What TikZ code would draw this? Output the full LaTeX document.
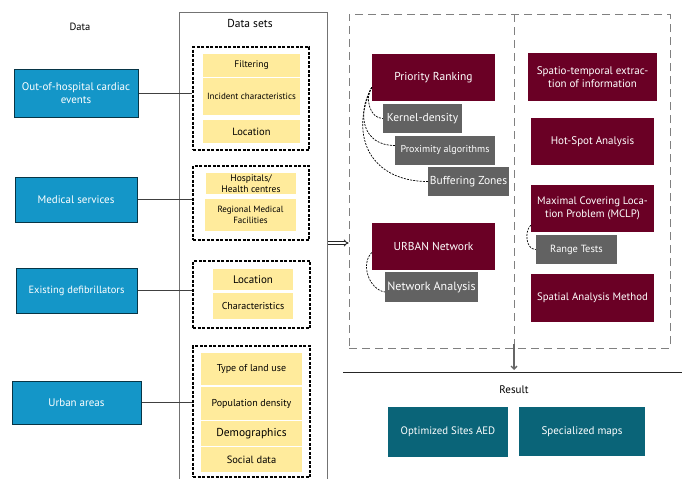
\documentclass[tikz,border=0pt]{standalone}
\usepackage{fontspec}
\setmainfont{PT Sans}
\usetikzlibrary{arrows.meta}
\definecolor{datablue}{HTML}{1496C8}
\definecolor{setyellow}{HTML}{FFEB9C}
\definecolor{methodred}{HTML}{6A0025}
\definecolor{toolgray}{HTML}{626262}
\definecolor{resultteal}{HTML}{0A6478}
\newcommand{\fsz}[1]{\fontsize{#1}{#1}\selectfont}
\begin{document}
\begin{tikzpicture}[x=1pt, y=-1pt,
    databox/.style={draw=datablue!35!black, line width=1pt, fill=datablue, text=white, align=center, inner sep=0pt, font=\fontsize{11}{12.5}\selectfont},
    setbox/.style={fill=setyellow, align=center, inner sep=0pt, font=\fsz{10}},
    groupbox/.style={draw, dashed, dash pattern=on 3pt off 1.5pt, line width=1.1pt, inner sep=0pt},
    methodbox/.style={fill=methodred, text=white, align=center, inner sep=0pt, font=\fsz{11.5}},
    toolbox/.style={fill=toolgray, text=white, align=center, inner sep=0pt, font=\fsz{11.5}},
    resultbox/.style={fill=resultteal, text=white, align=center, inner sep=0pt, font=\fsz{10.8}},
    link/.style={draw=black!75, line width=0.8pt},
    branch/.style={draw, dashed, dash pattern=on 2pt off 1.2pt, line width=0.7pt},
    flow/.style={draw=black!85, double, double distance=1.4pt, line width=0.9pt, -{Implies}}]
    \useasboundingbox (0,0) rectangle (686,479);
    % Data
    \node[font=\fsz{10.5}] (datatitle) at (80,27) {Data};
    \node[databox, minimum width=124pt, minimum height=48pt] (ohca) at (76,93) {Out-of-hospital cardiac\\events};
    \node[databox, minimum width=122pt, minimum height=45pt] (medical) at (76,199.5) {Medical services};
    \node[databox, minimum width=121pt, minimum height=45pt, font=\fsz{10.5}] (defib) at (76.5,290.5) {Existing defibrillators};
    \node[databox, minimum width=129pt, minimum height=43pt] (urban) at (76.5,402.5) {Urban areas};

    % Data sets
    \draw[black!55, line width=0.8pt] (179,480) |- (327,12) -- (327,480);
    \node[font=\fsz{11.5}] (setstitle) at (250,23) {Data sets};
    \coordinate (setsright) at (327.5,243);

    \node[groupbox, minimum width=116pt, minimum height=103pt] (group1) at (251,98.5) {};
    \node[setbox, minimum width=97pt, minimum height=23pt, font=\fsz{9.5}] (filtering) at (251.5,65.5) {Filtering};
    \node[setbox, minimum width=97pt, minimum height=37pt, font=\fsz{9}] (incident) at (251.5,96.5) {Incident characteristics};
    \node[setbox, minimum width=97pt, minimum height=23pt, font=\fsz{10.5}] (location1) at (251.5,131.5) {Location};

    \node[groupbox, minimum width=116pt, minimum height=74pt] (group2) at (251,203) {};
    \node[setbox, minimum width=90pt, minimum height=21pt, font=\fontsize{9.5}{10.5}\selectfont] (hospitals) at (251,183.5) {Hospitals/\\Health centres};
    \node[setbox, minimum width=91pt, minimum height=32pt, font=\fontsize{9}{11}\selectfont] (regional) at (250.5,215) {Regional Medical\\Facilities};

    \node[groupbox, minimum width=117pt, minimum height=67pt] (group3) at (251.5,294.5) {};
    \node[setbox, minimum width=80pt, minimum height=21pt, font=\fsz{11}] (location2) at (253,279.5) {Location};
    \node[setbox, minimum width=80pt, minimum height=26pt] (characteristics) at (253,306) {Characteristics};

    \node[groupbox, minimum width=117pt, minimum height=131pt] (group4) at (251.5,411.5) {};
    \node[setbox, minimum width=101pt, minimum height=32pt] (landuse) at (251.5,369) {Type of land use};
    \node[setbox, minimum width=101pt, minimum height=33pt] (population) at (251.5,403.5) {Population density};
    \node[setbox, minimum width=101pt, minimum height=25pt, font=\fsz{11.5}] (demographics) at (251.5,433.5) {Demographics};
    \node[setbox, minimum width=101pt, minimum height=25pt, font=\fsz{10.5}] (social) at (251.5,459.5) {Social data};

    \draw[link] (ohca.east) -- (ohca.east -| group1.west);
    \draw[link] (medical.east) -- (medical.east -| group2.west);
    \draw[link] (defib.east) -- (defib.east -| group3.west);
    \draw[link] (urban.east) -- (urban.east -| group4.west);

    % Analysis
    \node[draw=black!50, dashed, dash pattern=on 8pt off 5pt, line width=0.9pt, minimum width=321pt, minimum height=334pt, inner sep=0pt] (analysis) at (509.5,181) {};
    \draw[black!50, dashed, dash pattern=on 8pt off 5pt, line width=0.9pt] (514,14) coordinate (divtop) -- (514,348) coordinate (divbottom);
    \draw[flow] (setsright) -- (setsright -| analysis.west);

    \node[methodbox, minimum width=123pt, minimum height=47pt] (priority) at (433.5,77.5) {Priority Ranking};
    \node[toolbox, minimum width=79pt, minimum height=29pt] (kernel) at (422.5,118.5) {Kernel-density};
    \node[toolbox, minimum width=100pt, minimum height=29pt, font=\fsz{10}] (proximity) at (445,150.5) {Proximity algorithms};
    \node[toolbox, minimum width=81pt, minimum height=29pt] (buffering) at (468.5,181.5) {Buffering Zones};
    \node[methodbox, minimum width=123pt, minimum height=47pt] (urbannet) at (433.5,246.5) {URBAN Network};
    \node[toolbox, minimum width=93pt, minimum height=30pt, font=\fsz{12}] (netanalysis) at (431.5,287) {Network Analysis};

    \node[methodbox, minimum width=129pt, minimum height=48pt, font=\fontsize{11}{12.5}\selectfont] (spatiotemp) at (592.5,77) {Spatio-temporal extrac-\\tion of information};
    \node[methodbox, minimum width=123pt, minimum height=47pt, font=\fsz{11}] (hotspot) at (592.5,141.5) {Hot-Spot Analysis};
    \node[methodbox, minimum width=123pt, minimum height=47pt, font=\fontsize{10.8}{12.5}\selectfont] (mclp) at (592.5,208.5) {Maximal Covering Loca-\\tion Problem (MCLP)};
    \node[toolbox, minimum width=81pt, minimum height=29pt, font=\fsz{10.4}] (range) at (576.5,249.5) {Range Tests};
    \node[methodbox, minimum width=123pt, minimum height=48pt, font=\fsz{10.8}] (spatial) at (592.5,298) {Spatial Analysis Method};

    \draw[branch] ([yshift=14pt]priority.south west) to[out=235,in=180] (kernel.west);
    \draw[branch] ([yshift=14pt]priority.south west) to[out=240,in=180,looseness=1.3] ([yshift=5pt]proximity.west);
    \draw[branch] ([yshift=14pt]priority.south west) to[out=245,in=180,looseness=1.3] (buffering.west);
    \draw[branch] ([yshift=-6pt]urbannet.west) to[out=225,in=170] ([yshift=-5pt]netanalysis.west);
    \draw[branch] ([yshift=7pt]mclp.south west) to[out=225,in=180] (range.west);

    % Result
    \draw[black!85, line width=0.8pt] (343,372) coordinate (resleft) -- (682,372) coordinate (resright);
    \draw[black!60, line width=1.3pt, -{Straight Barb[length=3pt,width=6pt]}] ([yshift=4pt]divbottom) -- ([yshift=2pt]divbottom |- resleft);
    \node[font=\fsz{11}] (resulttitle) at (514,390) {Result};
    \node[resultbox, minimum width=120pt, minimum height=50pt] (optimized) at (448,432) {Optimized Sites AED};
    \node[resultbox, minimum width=126pt, minimum height=49pt, font=\fsz{11}] (maps) at (582,431.5) {Specialized maps};
\end{tikzpicture}
\end{document}
